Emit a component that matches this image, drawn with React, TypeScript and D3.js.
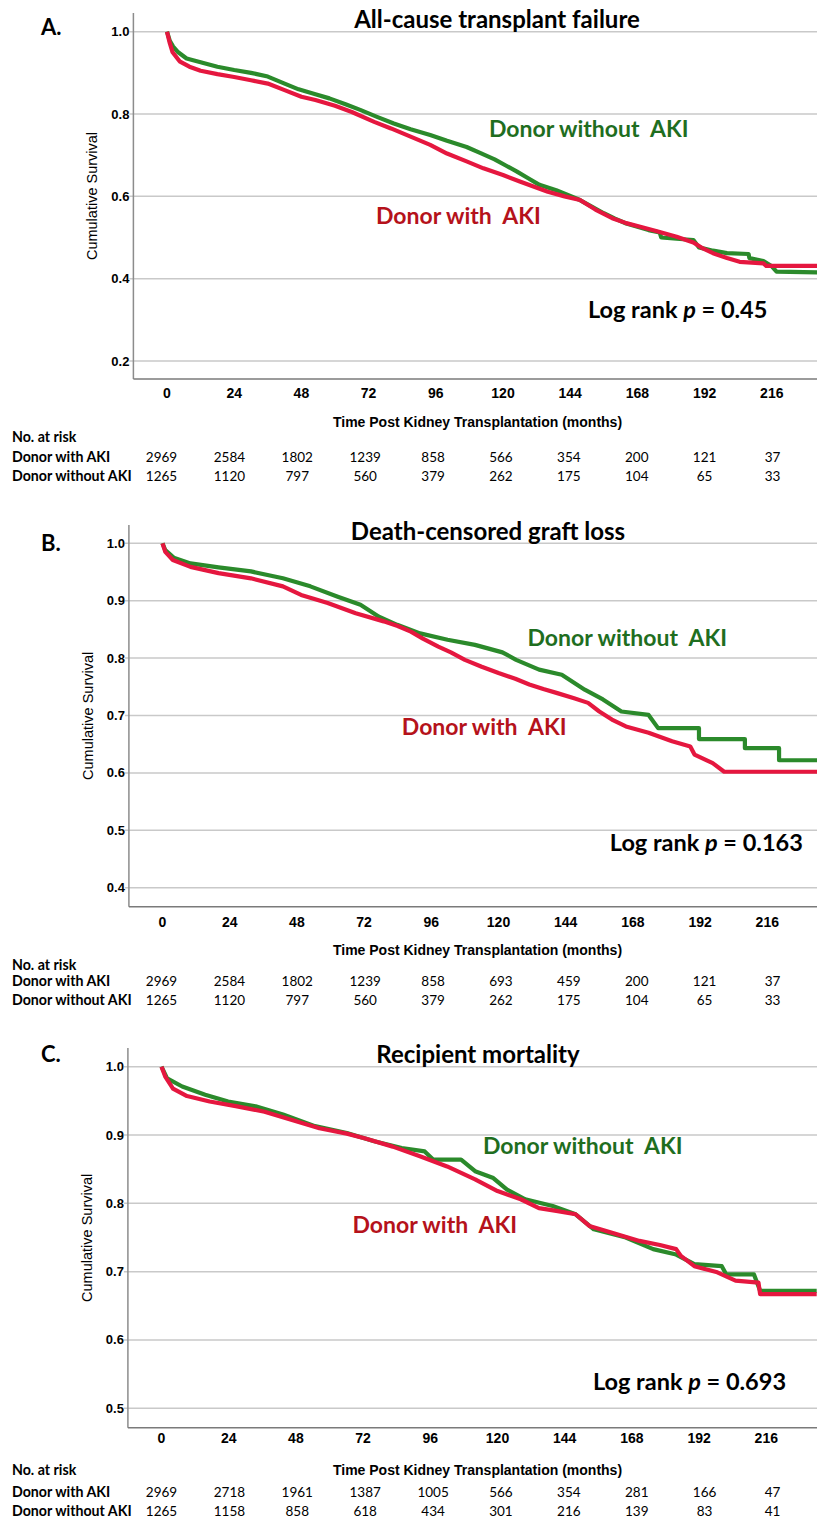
import React, { useEffect, useRef } from "react";
import * as d3 from "d3";

// ---- data ----
const timeTicks = [0, 24, 48, 72, 96, 120, 144, 168, 192, 216];
const groupNames = ["Donor with AKI", "Donor without AKI"];

const riskA_withAKI = [2969, 2584, 1802, 1239, 858, 566, 354, 200, 121, 37];
const riskA_withoutAKI = [1265, 1120, 797, 560, 379, 262, 175, 104, 65, 33];
const riskB_withAKI = [2969, 2584, 1802, 1239, 858, 693, 459, 200, 121, 37];
const riskB_withoutAKI = [1265, 1120, 797, 560, 379, 262, 175, 104, 65, 33];
const riskC_withAKI = [2969, 2718, 1961, 1387, 1005, 566, 354, 281, 166, 47];
const riskC_withoutAKI = [1265, 1158, 858, 618, 434, 301, 216, 139, 83, 41];

const yTicksA = [0.2, 0.4, 0.6, 0.8, 1.0];
const yTicksB = [0.4, 0.5, 0.6, 0.7, 0.8, 0.9, 1.0];
const yTicksC = [0.5, 0.6, 0.7, 0.8, 0.9, 1.0];

// [months, cumulative survival]
const survA_withAKI = [
  [0, 1], [1, 0.972], [2, 0.95], [4.5, 0.928], [8, 0.915], [12, 0.905], [18, 0.897],
  [24, 0.89], [30, 0.882], [36, 0.874], [42, 0.858], [48, 0.842], [53, 0.834], [60, 0.82],
  [66, 0.805], [74, 0.781], [80, 0.765], [87, 0.745], [94, 0.725], [100, 0.704],
  [107, 0.685], [113, 0.668], [120, 0.652], [126, 0.636], [136, 0.611], [142, 0.6],
  [147.5, 0.591], [153, 0.568], [159, 0.547], [164, 0.535], [169, 0.526], [175, 0.515],
  [182, 0.502], [188, 0.488], [191, 0.475], [195, 0.462], [200, 0.45], [204.5, 0.441],
  [213, 0.437], [214, 0.431], [234, 0.431],
];
const survA_withoutAKI = [
  [0, 1], [1, 0.978], [2.2, 0.964], [4, 0.95], [7, 0.935], [12, 0.926], [18, 0.915],
  [24, 0.907], [30, 0.9], [36, 0.891], [42, 0.874], [47, 0.86], [53, 0.848], [58, 0.838],
  [64, 0.823], [69, 0.81], [75, 0.793], [81, 0.777], [87, 0.763], [94, 0.749], [100, 0.735],
  [107, 0.72], [112, 0.705], [117, 0.69], [121, 0.675], [125, 0.66], [129, 0.644],
  [133, 0.628], [139, 0.615], [147.5, 0.591], [152, 0.574], [156, 0.559], [160, 0.546],
  [164, 0.534], [168, 0.526], [172, 0.518], [176, 0.512], [176.5, 0.5], [182, 0.497],
  [188, 0.494], [190, 0.476], [195, 0.468], [200, 0.462], [207.7, 0.46], [208, 0.45],
  [213, 0.443], [216, 0.43], [217.7, 0.417], [234, 0.415],
];
const survB_withAKI = [
  [0, 1], [1, 0.985], [3.7, 0.971], [10, 0.959], [20, 0.948], [31.6, 0.939], [43, 0.925],
  [49.5, 0.91], [59, 0.896], [69, 0.878], [79, 0.864], [84, 0.856], [88.7, 0.846],
  [93, 0.834], [98.5, 0.82], [103, 0.81], [108, 0.797], [114, 0.785], [120, 0.774],
  [126, 0.764], [131, 0.754], [136, 0.746], [141, 0.739], [147, 0.73], [152, 0.722],
  [156, 0.707], [160.5, 0.693], [165.5, 0.681], [173.6, 0.67], [182, 0.655], [188.5, 0.646],
  [190, 0.632], [196.5, 0.617], [200.6, 0.602], [234, 0.602],
];
const survB_withoutAKI = [
  [0, 1], [1, 0.988], [4, 0.975], [10, 0.965], [20, 0.958], [31.6, 0.951], [43, 0.939],
  [52.8, 0.925], [62.6, 0.907], [70.7, 0.893], [77.3, 0.872], [83.8, 0.858], [92, 0.843],
  [101.8, 0.832], [111.6, 0.823], [121.4, 0.81], [126.3, 0.797], [134.5, 0.78],
  [142.6, 0.771], [150.8, 0.745], [157.3, 0.728], [163.9, 0.707], [173.6, 0.701],
  [177, 0.678], [191.6, 0.678], [191.6, 0.659], [208, 0.659], [208, 0.643], [220.2, 0.643],
  [220.2, 0.622], [234, 0.622],
];
const survC_withAKI = [
  [0, 1], [1.4, 0.985], [4.1, 0.968], [9.1, 0.957], [17.2, 0.949], [27, 0.942],
  [36.8, 0.934], [46.6, 0.922], [56.4, 0.91], [66.2, 0.902], [72.8, 0.895], [82.6, 0.883],
  [92.3, 0.869], [102, 0.854], [112, 0.835], [120, 0.818], [128.3, 0.806], [134.8, 0.793],
  [141, 0.789], [147.9, 0.784], [152.8, 0.767], [160.9, 0.757], [170.7, 0.745],
  [178, 0.739], [183.8, 0.733], [185.5, 0.723], [190.3, 0.708], [198.5, 0.699],
  [205, 0.687], [213.2, 0.684], [213.8, 0.667], [234, 0.667],
];
const survC_withoutAKI = [
  [0, 1], [2, 0.983], [7.4, 0.971], [15.6, 0.959], [23.8, 0.949], [33.6, 0.942],
  [43.4, 0.93], [54.8, 0.913], [66.2, 0.903], [76, 0.891], [85.8, 0.881], [94, 0.876],
  [97, 0.864], [107, 0.864], [112, 0.847], [118.5, 0.837], [123.4, 0.82], [129.9, 0.806],
  [139.7, 0.796], [147.9, 0.784], [154.4, 0.762], [165.8, 0.75], [175.6, 0.733],
  [183.8, 0.725], [190.3, 0.711], [200.1, 0.708], [201.7, 0.696], [211.6, 0.696],
  [213.8, 0.672], [234, 0.672],
];

const W = 817;
const H = 1519;
const CAL = "Lato, 'Open Sans', sans-serif";
const ARIAL = "'Liberation Sans', Arial, sans-serif";
const GREEN = "#2b8a2b";
const RED = "#e5173f";

// layout of the three panels (pixels)
const panels = [
  {
    letter: "A.", letterY: 35, title: "All-cause transplant failure", titleX: 497, titleY: 28,
    x0: 167, axisTop: 13, axisBottom: 379, yLowPx: 361, yHighPx: 31.7, yTicks: yTicksA,
    withAKI: survA_withAKI, withoutAKI: survA_withoutAKI,
    riskWith: riskA_withAKI, riskWithout: riskA_withoutAKI,
    greenLbl: [489, 137], redLbl: [376, 223.5], logLbl: [588, 318], p: "0.45",
    tickY: 398, xTitleY: 426.7, atRiskY: 441.5, rowY: [461.5, 480.5],
  },
  {
    letter: "B.", letterY: 551, title: "Death-censored graft loss", titleX: 488, titleY: 540,
    x0: 162.5, axisTop: 525, axisBottom: 906.7, yLowPx: 887.7, yHighPx: 543.3, yTicks: yTicksB,
    withAKI: survB_withAKI, withoutAKI: survB_withoutAKI,
    riskWith: riskB_withAKI, riskWithout: riskB_withoutAKI,
    greenLbl: [527.5, 646], redLbl: [401.8, 735], logLbl: [609.8, 851], p: "0.163",
    tickY: 926.7, xTitleY: 955, atRiskY: 969.5, rowY: [986, 1004.5],
  },
  {
    letter: "C.", letterY: 1061.7, title: "Recipient mortality", titleX: 478, titleY: 1063,
    x0: 161.5, axisTop: 1048, axisBottom: 1427.7, yLowPx: 1408.3, yHighPx: 1066.7, yTicks: yTicksC,
    withAKI: survC_withAKI, withoutAKI: survC_withoutAKI,
    riskWith: riskC_withAKI, riskWithout: riskC_withoutAKI,
    greenLbl: [483, 1154], redLbl: [352.4, 1233], logLbl: [593, 1390], p: "0.693",
    tickY: 1443.3, xTitleY: 1475, atRiskY: 1474.5, rowY: [1497, 1516],
  },
];

function drawPanel(svg, p) {
  const x = d3.scaleLinear().domain([0, 216]).range([p.x0, p.x0 + 604.8]);
  const y = d3.scaleLinear().domain([p.yTicks[0], 1]).range([p.yLowPx, p.yHighPx]);
  // columns of the risk table
  const xt = d3.scaleLinear().domain([0, 216]).range([161.5, 772.5]);
  const left = x(-12);
  const g = svg.append("g");

  // grid lines + small ticks
  g.selectAll(".grid")
    .data(p.yTicks)
    .join("line")
    .attr("x1", left - 4)
    .attr("x2", W)
    .attr("y1", (d) => y(d))
    .attr("y2", (d) => y(d))
    .attr("stroke", "#c9c9c9")
    .attr("stroke-width", 1.5);

  // axis lines
  g.append("line")
    .attr("x1", left).attr("x2", left)
    .attr("y1", p.axisTop).attr("y2", p.axisBottom)
    .attr("stroke", "#8c8c8c").attr("stroke-width", 1.5);
  g.append("line")
    .attr("x1", left).attr("x2", W)
    .attr("y1", p.axisBottom).attr("y2", p.axisBottom)
    .attr("stroke", "#7a7a7a").attr("stroke-width", 1.5);

  // y tick labels
  g.selectAll(".ylab")
    .data(p.yTicks)
    .join("text")
    .attr("x", left - 4)
    .attr("y", (d) => y(d) + 4.5)
    .attr("text-anchor", "end")
    .style("font-family", ARIAL)
    .style("font-weight", "bold")
    .style("font-size", "13px")
    .text((d) => d3.format(".1f")(d));

  // y title
  g.append("text")
    .attr("transform", `translate(${left - 36},${(p.axisTop + p.axisBottom) / 2}) rotate(-90)`)
    .attr("text-anchor", "middle")
    .style("font-family", ARIAL)
    .style("font-size", "14.5px")
    .text("Cumulative Survival");

  // x tick labels
  g.selectAll(".xlab")
    .data(timeTicks)
    .join("text")
    .attr("x", (d) => x(d))
    .attr("y", p.tickY)
    .attr("text-anchor", "middle")
    .style("font-family", ARIAL)
    .style("font-weight", "bold")
    .style("font-size", "14px")
    .text((d) => d);

  g.append("text")
    .attr("x", 477.5)
    .attr("y", p.xTitleY)
    .attr("text-anchor", "middle")
    .style("font-family", ARIAL)
    .style("font-weight", "bold")
    .style("font-size", "14px")
    .text("Time Post Kidney Transplantation (months)");

  // curves (red drawn last, on top)
  const line = d3.line().x((d) => x(d[0])).y((d) => y(d[1]));
  [[p.withoutAKI, GREEN], [p.withAKI, RED]].forEach(([data, col]) => {
    g.append("path")
      .attr("d", line(data))
      .attr("fill", "none")
      .attr("stroke", col)
      .attr("stroke-width", 4.2)
      .attr("stroke-linejoin", "round");
  });

  // panel letter and title
  g.append("text")
    .attr("x", 41).attr("y", p.letterY)
    .style("font-family", CAL).style("font-weight", "bold").style("font-size", "22px")
    .text(p.letter);
  g.append("text")
    .attr("x", p.titleX).attr("y", p.titleY)
    .attr("text-anchor", "middle")
    .style("font-family", CAL).style("font-weight", "bold").style("font-size", "24px")
    .text(p.title);

  // curve labels
  g.append("text")
    .attr("x", p.greenLbl[0]).attr("y", p.greenLbl[1])
    .attr("fill", "#1f6e1f")
    .style("white-space", "pre")
    .style("font-family", CAL).style("font-weight", "bold").style("font-size", "23px")
    .text("Donor without  AKI");
  g.append("text")
    .attr("x", p.redLbl[0]).attr("y", p.redLbl[1])
    .attr("fill", "#b5121b")
    .style("white-space", "pre")
    .style("font-family", CAL).style("font-weight", "bold").style("font-size", "23px")
    .text("Donor with  AKI");

  const lr = g.append("text")
    .attr("x", p.logLbl[0]).attr("y", p.logLbl[1])
    .style("white-space", "pre")
    .style("font-family", CAL).style("font-weight", "bold").style("font-size", "23.5px");
  lr.append("tspan").text("Log rank ");
  lr.append("tspan").style("font-style", "italic").text("p");
  lr.append("tspan").text(" = " + p.p);

  // number at risk table
  g.append("text")
    .attr("x", 12).attr("y", p.atRiskY)
    .style("font-family", CAL).style("font-weight", "bold").style("font-size", "14.2px")
    .text("No. at risk");
  [p.riskWith, p.riskWithout].forEach((row, i) => {
    g.append("text")
      .attr("x", 12).attr("y", p.rowY[i])
      .style("font-family", CAL).style("font-weight", "bold").style("font-size", "14.2px")
      .text(groupNames[i]);
    g.selectAll(".risk" + i)
      .data(row)
      .join("text")
      .attr("x", (d, j) => xt(timeTicks[j]))
      .attr("y", p.rowY[i])
      .attr("text-anchor", "middle")
      .style("font-family", CAL)
      .style("font-size", "13.5px")
      .text((d) => d);
  });
}

export default function App() {
  const ref = useRef(null);

  useEffect(() => {
    if (!ref.current) return;
    const svg = d3.select(ref.current);
    svg.selectAll("*").remove();
    svg.append("rect").attr("width", W).attr("height", H).attr("fill", "#fff");
    panels.forEach((p) => drawPanel(svg, p));
  }, []);

  return (
    <svg
      ref={ref}
      width={W}
      height={H}
      style={{ position: "absolute", left: 0, top: 0, display: "block" }}
    />
  );
}
